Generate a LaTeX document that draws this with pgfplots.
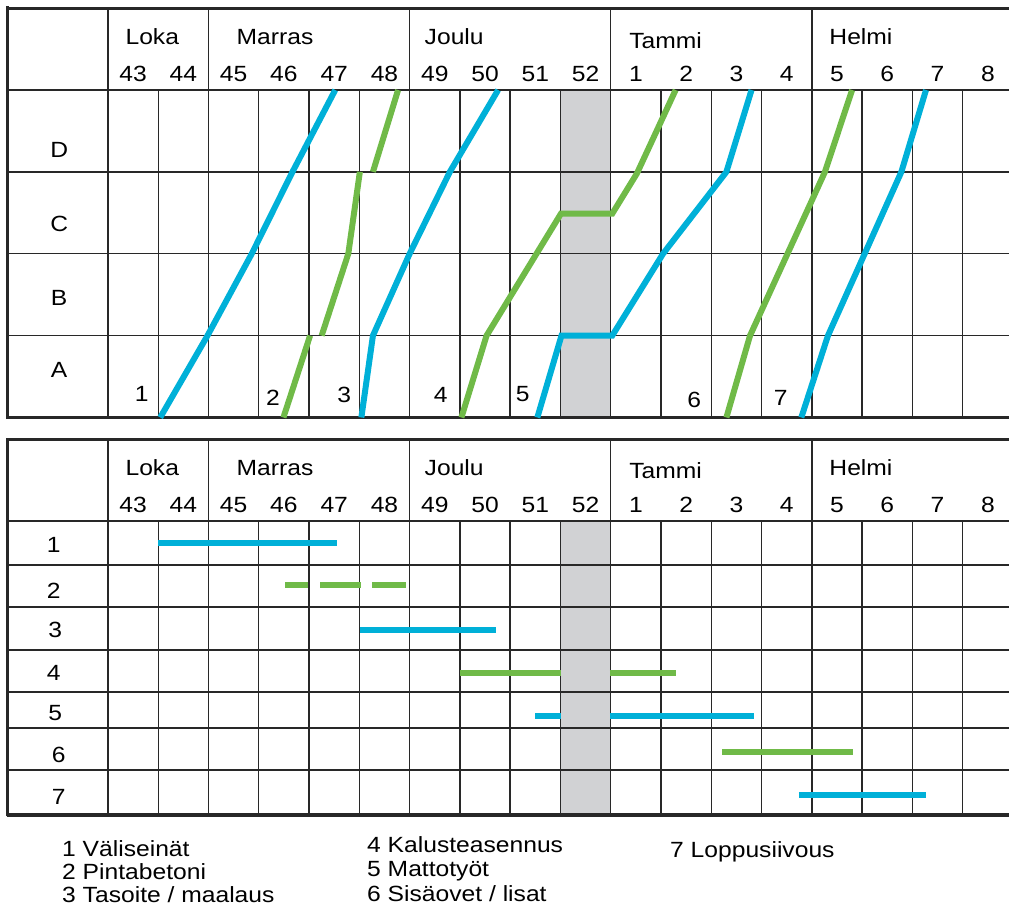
\documentclass[border=0pt]{standalone}
\usepackage{fontspec}
\setmainfont{Liberation Sans}[FakeStretch=1.12]
\usepackage{pgfplots}
\pgfplotsset{compat=1.18}

\definecolor{lobblue}{RGB}{0,176,216}
\definecolor{lobgreen}{RGB}{112,186,72}
\definecolor{xmasgray}{RGB}{209,210,212}
\definecolor{rule}{RGB}{40,40,40}
\newcommand{\lf}{\fontsize{22}{26}\selectfont}

% shared look of both week grids: x = week column, 0 = left edge of week 43
\pgfplotsset{
  weekgrid/.style={
    scale only axis, width=1005.6pt,
    xmin=-2, xmax=18,
    clip=false, set layers,
    axis line style={draw=none},
    xtick={0.5,1.5,...,17.5},
    xticklabels={43,44,45,46,47,48,49,50,51,52,1,2,3,4,5,6,7,8},
    xticklabel pos=upper,
    xticklabel style={anchor=base, yshift=8.3pt},
    minor xtick={0,1,...,17},
    xminorgrids=true, xmajorgrids=false, ymajorgrids=true,
    yticklabels={},
    major tick length=0pt, minor tick length=0pt,
    grid style={rule, line width=1.4pt},
    minor grid style={rule, line width=1.4pt},
    tick label style={font=\lf},
    unbounded coords=jump,
    every axis plot/.append style={line width=6pt},
  },
}

\begin{document}
\begin{tikzpicture}

% ---------- line of balance (rows A-D) ----------
\begin{axis}[weekgrid,
  at={(7.4pt,494.5pt)}, anchor=south west,
  height=327.5pt, ymin=0, ymax=4, ytick={1,2,3}]

\addplot[on layer=axis background, draw=none, fill=xmasgray, line width=0pt]
  coordinates {(9,0) (9,4) (10,4) (10,0) (9,0)};

% frame and header
\draw[rule, line width=3pt] (-2,5) -- (18.2,5);
\draw[rule, line width=3.4pt] (-2,0) -- (18.2,0);
\draw[rule, line width=3pt] (-2,-0.02) -- (-2,5.02);
\draw[rule, line width=2.2pt] (-2,4) -- (18.2,4);
\pgfplotsinvokeforeach{0,2,6,10,14}{\draw[rule, line width=1.4pt] (#1,4) -- (#1,5);}

\node[font=\lf, anchor=base west] at (0.28,4.55) {Loka};
\node[font=\lf, anchor=base west] at (2.49,4.55) {Marras};
\node[font=\lf, anchor=base west] at (6.23,4.55) {Joulu};
\node[font=\lf, anchor=base west] at (10.3,4.51) {Tammi};
\node[font=\lf, anchor=base west] at (14.28,4.55) {Helmi};

\node[font=\lf] at (-0.97,3.27) {D};
\node[font=\lf] at (-0.97,2.36) {C};
\node[font=\lf] at (-0.97,1.46) {B};
\node[font=\lf] at (-0.97,0.58) {A};

% 1 Väliseinät
\addplot[lobblue] coordinates {(1.04,0) (1.98,1) (2.86,2) (3.67,3) (4.52,4)};
% 2 Pintabetoni (interrupted at the row changes)
\addplot[lobgreen] coordinates {(3.49,0) (4.02,1) (4.1,nan) (4.25,1) (4.78,2) (5.01,3) (5.1,nan) (5.27,3) (5.77,4)};
% 3 Tasoite / maalaus
\addplot[lobblue] coordinates {(5.04,0) (5.27,1) (6.0,2) (6.8,3) (7.76,4)};
% 4 Kalusteasennus
\addplot[lobgreen] coordinates {(7.03,0) (7.53,1) (9.01,2.49) (10.03,2.49) (10.52,2.98) (11.29,4)};
% 5 Mattotyöt
\addplot[lobblue] coordinates {(8.54,0) (9.02,1) (10.03,1) (11.04,2) (12.3,3) (12.8,4)};
% 6 Sisäovet / lisat
\addplot[lobgreen] coordinates {(12.3,0) (12.77,1) (14.26,3) (14.8,4)};
% 7 Loppusiivous
\addplot[lobblue] coordinates {(13.79,0) (14.32,1) (15.78,3) (16.27,4)};

\node[font=\lf] at (0.67,0.29) {1};
\node[font=\lf] at (3.28,0.24) {2};
\node[font=\lf] at (4.70,0.27) {3};
\node[font=\lf] at (6.62,0.27) {4};
\node[font=\lf] at (8.25,0.29) {5};
\node[font=\lf] at (11.66,0.22) {6};
\node[font=\lf] at (13.38,0.24) {7};
\end{axis}

% ---------- bar schedule (tasks 1-7), y in pt from page bottom ----------
\begin{axis}[weekgrid,
  at={(7.4pt,97pt)}, anchor=south west,
  height=294pt, ymin=97, ymax=391, ytick={142,184,220,262,305,347}]

\addplot[on layer=axis background, draw=none, fill=xmasgray, line width=0pt]
  coordinates {(9,97) (9,391) (10,391) (10,97) (9,97)};

\draw[rule, line width=3pt] (-2,472) -- (18.2,472);
\draw[rule, line width=3.4pt] (-2,97) -- (18.2,97);
\draw[rule, line width=3pt] (-2,95.5) -- (-2,473.5);
\draw[rule, line width=2.2pt] (-2,391) -- (18.2,391);
\pgfplotsinvokeforeach{0,2,6,10,14}{\draw[rule, line width=1.4pt] (#1,391) -- (#1,472);}

\node[font=\lf, anchor=base west] at (0.28,436) {Loka};
\node[font=\lf, anchor=base west] at (2.49,436) {Marras};
\node[font=\lf, anchor=base west] at (6.23,436) {Joulu};
\node[font=\lf, anchor=base west] at (10.3,433) {Tammi};
\node[font=\lf, anchor=base west] at (14.28,436) {Helmi};

\node[font=\lf] at (-1.08,367) {1};
\node[font=\lf] at (-1.08,321.5) {2};
\node[font=\lf] at (-1.05,282) {3};
\node[font=\lf] at (-1.08,239.5) {4};
\node[font=\lf] at (-1.05,198.5) {5};
\node[font=\lf] at (-0.98,157.5) {6};
\node[font=\lf] at (-0.98,115) {7};

\addplot[lobblue] coordinates {(1.0,368.7) (4.55,368.7)};
\addplot[lobgreen] coordinates {(3.53,327) (3.98,327) (4.1,nan) (4.22,327) (5.03,327) (5.1,nan) (5.26,327) (5.93,327)};
\addplot[lobblue] coordinates {(5.02,282) (7.71,282)};
\addplot[lobgreen] coordinates {(7.0,238.7) (9.02,238.7) (9.5,nan) (9.98,238.7) (11.3,238.7)};
\addplot[lobblue] coordinates {(8.5,196.3) (9.02,196.3) (9.5,nan) (9.98,196.3) (12.85,196.3)};
\addplot[lobgreen] coordinates {(12.22,160.3) (14.82,160.3)};
\addplot[lobblue] coordinates {(13.74,117) (16.27,117)};
\end{axis}

% ---------- key ----------
\begin{scope}[every node/.style={font=\lf, anchor=base west, inner sep=0pt}]
\node at (62pt,55pt) {1 Väliseinät};
\node at (62pt,32pt) {2 Pintabetoni};
\node at (62pt,9pt) {3 Tasoite / maalaus};
\node at (367pt,59pt) {4 Kalusteasennus};
\node at (367pt,35pt) {5 Mattotyöt};
\node at (367pt,10pt) {6 Sisäovet / lisat};
\node at (670pt,54pt) {7 Loppusiivous};
\end{scope}

% page = the reference's 1009 x 912 frame
\pgfresetboundingbox
\path (0,0) rectangle (1009pt,912pt);
\end{tikzpicture}
\end{document}
